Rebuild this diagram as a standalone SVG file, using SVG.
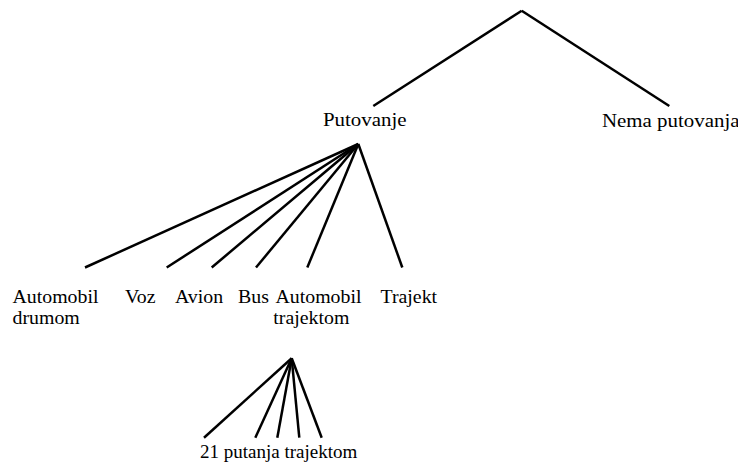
<svg xmlns="http://www.w3.org/2000/svg" width="738" height="467" viewBox="0 0 738 467">
<style>
text{font-family:"Liberation Serif","Times New Roman",serif;font-size:19px;fill:#000}
.c line{stroke:#000;stroke-width:2.5;stroke-linecap:butt}
</style>
<rect width="738" height="467" fill="#fff"/>
<g class="c" id="connectors">
<line x1="521.7" y1="10.7" x2="373.3" y2="106"/>
<line x1="521.7" y1="10.7" x2="669.3" y2="106"/>
<line x1="358.3" y1="144" x2="85" y2="267.5"/>
<line x1="358.3" y1="144" x2="166.7" y2="267.5"/>
<line x1="358.3" y1="144" x2="211.7" y2="267.5"/>
<line x1="358.3" y1="144" x2="256" y2="267.5"/>
<line x1="358.3" y1="144" x2="307.3" y2="267.5"/>
<line x1="358.3" y1="144" x2="402.3" y2="267.5"/>
<line x1="291.7" y1="358.3" x2="204" y2="437.7"/>
<line x1="291.7" y1="358.3" x2="255.3" y2="437.7"/>
<line x1="291.7" y1="358.3" x2="277.3" y2="437.7"/>
<line x1="291.7" y1="358.3" x2="299.3" y2="437.7"/>
<line x1="291.7" y1="358.3" x2="321.7" y2="437.7"/>
</g>
<g id="putovanje"><text transform="translate(323,126) scale(1.1,1)">Putovanje</text></g>
<g id="nema-putovanja"><text transform="translate(602,127) scale(1.1,1)">Nema putovanja</text></g>
<g id="automobil-drumom"><text transform="translate(12.5,302.5) scale(1.045,1)">Automobil</text><text transform="translate(12.5,324) scale(1.045,1)">drumom</text></g>
<g id="voz"><text transform="translate(125,302.5) scale(1.045,1)">Voz</text></g>
<g id="avion"><text transform="translate(175,302.5) scale(1.045,1)">Avion</text></g>
<g id="bus"><text transform="translate(238,302.5) scale(1.045,1)">Bus</text></g>
<g id="automobil-trajektom"><text transform="translate(275.5,302.5) scale(1.045,1)">Automobil</text><text transform="translate(273.3,324) scale(1.045,1)">trajektom</text></g>
<g id="trajekt"><text transform="translate(380.5,302.5) scale(1.045,1)">Trajekt</text></g>
<g id="putanje"><text transform="translate(200,457.5)">21 putanja trajektom</text></g>
</svg>
